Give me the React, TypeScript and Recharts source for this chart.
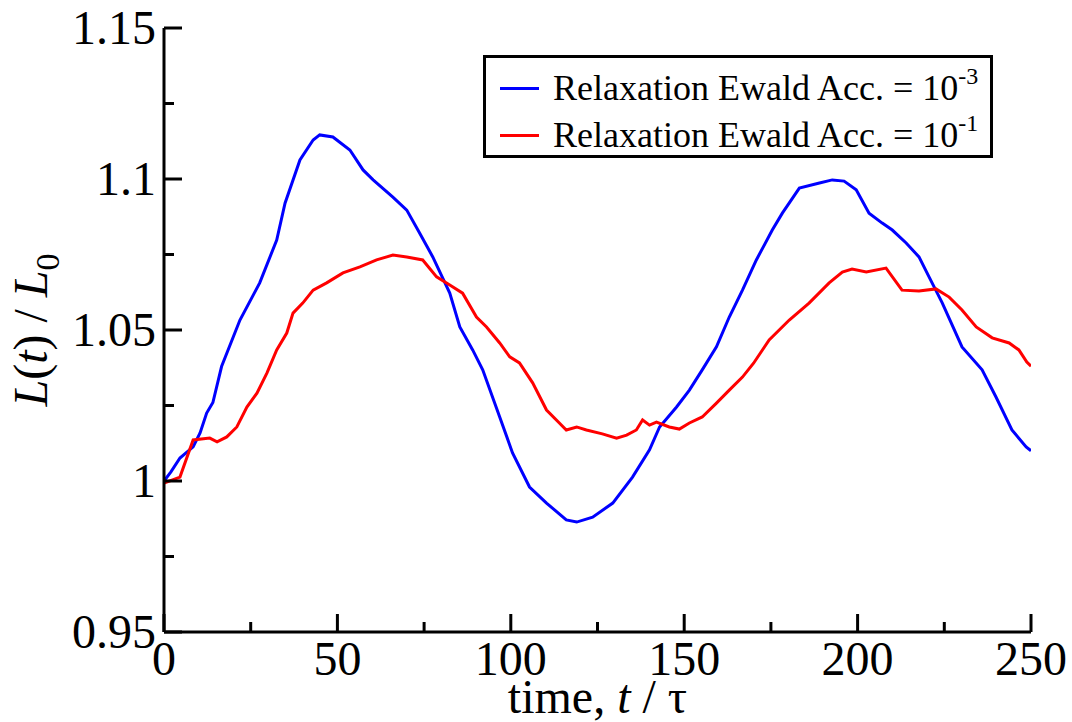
import React from "react";
import { LineChart, Line, XAxis, YAxis, Legend } from "recharts";

const blueT = [0, 2, 4.6, 8.4, 10.4, 12.3, 14.1, 16.6, 21.9, 27.6, 32.5, 34.9, 39.2, 43, 44.9, 48.7, 53.6, 57.4, 60.3, 66, 70, 73.7, 77.5, 82.4, 85.3, 89, 91.9, 96.8, 100.5, 105.4, 110.3, 116, 119, 123.6, 129.4, 135.1, 140, 142.9, 147.8, 151.5, 155.2, 159.3, 163, 166.8, 170.8, 175.4, 178.3, 183.2, 189, 192.7, 196.1, 199.6, 203.3, 207.1, 210, 214, 217.7, 220.6, 224.4, 230.1, 235.9, 239.9, 244.5, 248.6, 250];
const blueL = [1.0, 1.003, 1.0076, 1.0113, 1.0159, 1.0225, 1.026, 1.0379, 1.0533, 1.0656, 1.0798, 1.092, 1.1063, 1.1129, 1.1146, 1.1139, 1.1096, 1.103, 1.0997, 1.094, 1.0897, 1.0821, 1.0742, 1.0622, 1.051, 1.0434, 1.0368, 1.0212, 1.0093, 0.998, 0.9927, 0.9871, 0.9864, 0.988, 0.9927, 1.0013, 1.0103, 1.0179, 1.0245, 1.0301, 1.0368, 1.0444, 1.0543, 1.0632, 1.0732, 1.0831, 1.0887, 1.097, 1.0987, 1.0997, 1.0993, 1.0964, 1.0887, 1.0854, 1.0831, 1.0788, 1.0742, 1.0676, 1.059, 1.0444, 1.0368, 1.0278, 1.0169, 1.0113, 1.01];

const redT = [0, 4.6, 8.4, 13.2, 15.3, 18.1, 21, 23.9, 26.8, 29.7, 32.5, 35.4, 37.2, 40, 43, 46.9, 51.6, 56.5, 61.3, 66, 70, 74.6, 78.6, 82.4, 86.1, 90.1, 93, 96.8, 99.7, 102.5, 106.3, 110.3, 114, 116, 119, 121.8, 126.4, 130.5, 133.4, 136.2, 138, 140, 142, 145.7, 148.6, 151.5, 155.2, 159.3, 163, 166.8, 170, 174.5, 180.3, 186, 191.8, 195.6, 198.4, 202.5, 208.2, 212.8, 217.7, 222.6, 226.4, 230.1, 234.2, 238.8, 243.7, 246.5, 248.8, 250];
const redL = [0.9993, 1.0013, 1.0136, 1.0142, 1.013, 1.0146, 1.0179, 1.0245, 1.0291, 1.0358, 1.0434, 1.049, 1.0556, 1.0589, 1.0632, 1.0656, 1.0689, 1.0709, 1.0732, 1.0748, 1.0742, 1.0732, 1.0676, 1.0649, 1.0622, 1.0543, 1.051, 1.0457, 1.0411, 1.0391, 1.0325, 1.0235, 1.0192, 1.0169, 1.0179, 1.0169, 1.0156, 1.0142, 1.0152, 1.0169, 1.0202, 1.0185, 1.0195, 1.0179, 1.0172, 1.0192, 1.0212, 1.0258, 1.0301, 1.0344, 1.039, 1.0467, 1.0533, 1.0589, 1.0656, 1.0692, 1.0702, 1.0692, 1.0705, 1.0632, 1.0629, 1.0636, 1.0609, 1.0566, 1.051, 1.0474, 1.0457, 1.0434, 1.0394, 1.038];

const xMajorTicks = [0, 50, 100, 150, 200, 250];
const xMinorTicks = [25, 75, 125, 175, 225];
const yMajorTicks = [0.95, 1.0, 1.05, 1.1, 1.15];
const yMinorTicks = [0.975, 1.025, 1.075, 1.125];
const yTickLabels = ["0.95", "1", "1.05", "1.1", "1.15"];

const seriesNames = ["Relaxation Ewald Acc. = 10", "Relaxation Ewald Acc. = 10"];
const seriesExponents = ["-3", "-1"];
const seriesColors = ["#0000ff", "#ff0000"];

const blueData = blueT.map((t, i) => ({ t, L: blueL[i] }));
const redData = redT.map((t, i) => ({ t, L: redL[i] }));
const xTicks = [...xMajorTicks, ...xMinorTicks].sort((a, b) => a - b);
const yTicks = [...yMajorTicks, ...yMinorTicks].sort((a, b) => a - b);

const FONT = "'Liberation Serif', 'Times New Roman', serif";
const MAJOR = 18;
const MINOR = 10;

const isMajor = (arr: number[], v: number) => arr.some((m) => Math.abs(m - v) < 1e-9);

const BottomTick = (props: any) => {
  const { x, y, payload } = props;
  const major = isMajor(xMajorTicks, payload.value);
  return (
    <g>
      <line x1={x} y1={y} x2={x} y2={y - (major ? MAJOR : MINOR)} stroke="#000" strokeWidth={3} />
      {major && (
        <text x={x} y={y + 43} textAnchor="middle" fontSize={48} fontFamily={FONT} fill="#000">
          {payload.value}
        </text>
      )}
    </g>
  );
};

const TopTick = (props: any) => {
  const { x, y, payload } = props;
  const major = isMajor(xMajorTicks, payload.value);
  return <line x1={x} y1={y} x2={x} y2={y + (major ? MAJOR : MINOR)} stroke="#000" strokeWidth={3} />;
};

const LeftTick = (props: any) => {
  const { x, y, payload } = props;
  const idx = yMajorTicks.findIndex((m) => Math.abs(m - payload.value) < 1e-9);
  const major = idx >= 0;
  return (
    <g>
      <line x1={x} y1={y} x2={x + (major ? MAJOR : MINOR)} y2={y} stroke="#000" strokeWidth={3} />
      {major && (
        <text x={x - 8} y={y + 16} textAnchor="end" fontSize={48} fontFamily={FONT} fill="#000">
          {yTickLabels[idx]}
        </text>
      )}
    </g>
  );
};

const RightTick = (props: any) => {
  const { x, y, payload } = props;
  const major = isMajor(yMajorTicks, payload.value);
  return <line x1={x} y1={y} x2={x - (major ? MAJOR : MINOR)} y2={y} stroke="#000" strokeWidth={3} />;
};

const XLabel = (props: any) => {
  const vb = props.viewBox || { x: 164, y: 632, width: 867, height: 90 };
  const cx = vb.x + vb.width / 2;
  return (
    <text x={cx} y={vb.y + 81} textAnchor="middle" fontSize={48} fontFamily={FONT} fill="#000">
      time, <tspan fontStyle="italic">t</tspan> / τ
    </text>
  );
};

const YLabel = (props: any) => {
  const vb = props.viewBox || { x: 0, y: 28, width: 164, height: 604 };
  const cy = vb.y + vb.height / 2;
  const bx = vb.x + 47;
  return (
    <text
      x={bx}
      y={cy}
      transform={`rotate(-90 ${bx} ${cy})`}
      textAnchor="middle"
      fontSize={48}
      fontFamily={FONT}
      fill="#000"
    >
      <tspan fontStyle="italic">L</tspan>(<tspan fontStyle="italic">t</tspan>) / <tspan fontStyle="italic">L</tspan>
      <tspan fontSize={34} dy={12}>0</tspan>
    </text>
  );
};

const LegendBox = () => (
  <div
    style={{
      width: 510,
      height: 103,
      boxSizing: "border-box",
      border: "3px solid #000",
      background: "#fff",
      position: "relative",
      fontFamily: FONT,
      color: "#000",
    }}
  >
    {seriesNames.map((name, i) => (
      <div key={i} style={{ position: "absolute", left: 0, top: 10 + i * 47, height: 40, width: "100%" }}>
        <div
          style={{
            position: "absolute",
            left: 14,
            top: 19,
            width: 39,
            height: 3,
            background: seriesColors[i],
          }}
        />
        <div
          style={{
            position: "absolute",
            left: 67,
            top: 0,
            fontSize: 36,
            lineHeight: "40px",
            whiteSpace: "nowrap",
          }}
        >
          {name}
          <span style={{ fontSize: 24, position: "relative", top: -16 }}>{seriesExponents[i]}</span>
        </div>
      </div>
    ))}
  </div>
);

export default function App() {
  return (
    <div style={{ position: "absolute", left: 0, top: 0, width: 1072, height: 722, background: "#fff" }}>
      <LineChart width={1072} height={722} data={blueData} margin={{ top: 28, right: 41, left: 0, bottom: 0 }}>
        <XAxis
          dataKey="t"
          type="number"
          domain={[0, 250]}
          ticks={xTicks}
          interval={0}
          height={90}
          tickSize={0}
          tickMargin={0}
          tickLine={false}
          tick={<BottomTick />}
          axisLine={{ stroke: "#000", strokeWidth: 3 }}
          allowDataOverflow
          label={<XLabel />}
        />
        <XAxis
          xAxisId="top"
          orientation="top"
          dataKey="t"
          type="number"
          domain={[0, 250]}
          ticks={xTicks}
          interval={0}
          height={0}
          tickSize={0}
          tickMargin={0}
          tickLine={false}
          tick={<TopTick />}
          axisLine={{ stroke: "#000", strokeWidth: 3 }}
          allowDataOverflow
        />
        <YAxis
          type="number"
          domain={[0.95, 1.15]}
          ticks={yTicks}
          interval={0}
          width={164}
          tickSize={0}
          tickMargin={0}
          tickLine={false}
          tick={<LeftTick />}
          axisLine={{ stroke: "#000", strokeWidth: 3 }}
          allowDataOverflow
          label={<YLabel />}
        />
        <YAxis
          yAxisId="right"
          orientation="right"
          type="number"
          domain={[0.95, 1.15]}
          ticks={yTicks}
          interval={0}
          width={0}
          tickSize={0}
          tickMargin={0}
          tickLine={false}
          tick={<RightTick />}
          axisLine={{ stroke: "#000", strokeWidth: 3 }}
          allowDataOverflow
        />
        <Legend
          layout="vertical"
          align="center"
          verticalAlign="middle"
          content={<LegendBox />}
          wrapperStyle={{ position: "absolute", left: 483, top: 55, width: 510, height: 103 }}
        />
        <Line
          name={seriesNames[0]}
          data={blueData}
          dataKey="L"
          type="linear"
          stroke={seriesColors[0]}
          strokeWidth={3}
          dot={false}
          isAnimationActive={false}
        />
        <Line
          name={seriesNames[1]}
          data={redData}
          dataKey="L"
          type="linear"
          stroke={seriesColors[1]}
          strokeWidth={3}
          dot={false}
          isAnimationActive={false}
        />
      </LineChart>
    </div>
  );
}
